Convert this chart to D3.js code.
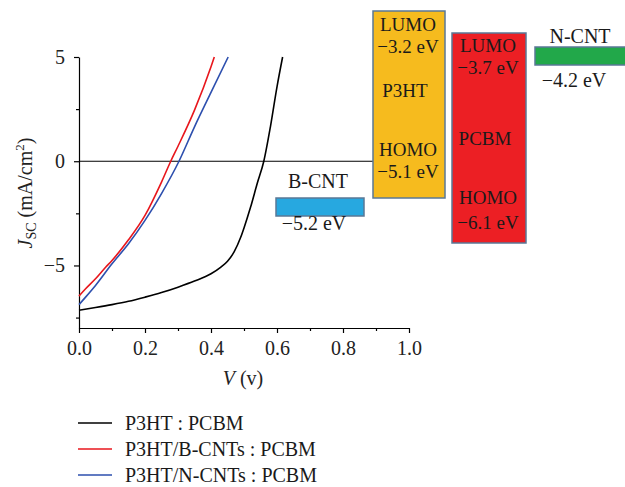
<!DOCTYPE html>
<html>
<head>
<meta charset="utf-8">
<script src="https://cdn.jsdelivr.net/npm/d3@7"></script>
<style>
  body { margin: 0; background: #fff; }
  svg { display: block; font-family: "Liberation Serif", "DejaVu Serif", serif; }
  .axis path, .axis line { stroke: #000; stroke-width: 1.2; }
  .axis text { font-family: "Liberation Serif", serif; font-size: 20px; fill: #222; }
</style>
</head>
<body>
<div id="chart"></div>
<script>
// J-V curves
let blackV = [0, 0.05, 0.1, 0.15, 0.2, 0.25, 0.3, 0.35, 0.4, 0.43, 0.45, 0.47, 0.49, 0.5, 0.52, 0.54, 0.56, 0.58, 0.6, 0.617];
let blackJ = [-7.15, -7.02, -6.88, -6.72, -6.52, -6.3, -6.04, -5.75, -5.4, -5.08, -4.8, -4.35, -3.65, -3.2, -2.2, -1.07, 0, 1.65, 3.57, 5];

let redV = [0, 0.02, 0.05, 0.08, 0.1, 0.15, 0.2, 0.25, 0.278, 0.3, 0.35, 0.4, 0.41];
let redJ = [-6.47, -6.12, -5.64, -5.1, -4.76, -3.77, -2.6, -1.0, 0, 0.72, 2.45, 4.53, 5];

let blueV = [0, 0.02, 0.05, 0.1, 0.15, 0.2, 0.25, 0.303, 0.35, 0.4, 0.452];
let blueJ = [-6.88, -6.52, -5.96, -4.92, -3.96, -2.84, -1.55, 0, 1.65, 3.3, 5];

let seriesNames = ['P3HT : PCBM', 'P3HT/B-CNTs : PCBM', 'P3HT/N-CNTs : PCBM'];
let seriesColors = ['#000000', '#e8161c', '#2d4fae'];

let xTicks = [0, 0.2, 0.4, 0.6, 0.8, 1.0];
let yTicks = [-5, 0, 5];

// energy levels (eV)
let blendNames = ['P3HT', 'PCBM'];
let lumoLevels = [-3.2, -3.7];
let homoLevels = [-5.1, -6.1];
let cntNames = ['B-CNT', 'N-CNT'];
let cntLevels = [-5.2, -4.2];

let svg = d3.select('#chart').append('svg').attr('width', 625).attr('height', 487);

let x = d3.scaleLinear().domain([0, 1]).range([79, 409]);
let y = d3.scaleLinear().domain([-8, 5]).range([328, 57]);

let eV = v => '\u2212' + Math.abs(v).toFixed(1) + ' eV';

// Оси
svg.append('g').attr('class', 'axis')
    .attr('transform', 'translate(0,328)')
    .call(d3.axisBottom(x).tickValues(d3.range(0.1, 1, 0.2)).tickSize(3).tickFormat(''))
    .select('.domain').remove();
svg.append('g').attr('class', 'axis')
    .attr('transform', 'translate(0,328)')
    .call(d3.axisBottom(x).tickValues(xTicks).tickSize(5).tickSizeOuter(0).tickPadding(8).tickFormat(d3.format('.1f')));

svg.append('g').attr('class', 'axis')
    .attr('transform', 'translate(79,0)')
    .call(d3.axisLeft(y).tickValues([-7.5, -2.5, 2.5]).tickSize(3).tickFormat(''))
    .select('.domain').remove();
svg.append('g').attr('class', 'axis')
    .attr('transform', 'translate(79,0)')
    .call(d3.axisLeft(y).tickValues(yTicks).tickSize(5).tickSizeOuter(0).tickPadding(9).tickFormat(d => d < 0 ? '\u2212' + Math.abs(d) : d));

// Линия нуля
svg.append('line')
    .attr('x1', x(0)).attr('x2', 373)
    .attr('y1', y(0)).attr('y2', y(0))
    .attr('stroke', '#000').attr('stroke-width', 1.2);

// Подписи осей
let xLabel = svg.append('text').attr('x', 243).attr('y', 385).attr('text-anchor', 'middle')
    .style('font-size', '20px').attr('fill', '#222');
xLabel.append('tspan').style('font-style', 'italic').text('V');
xLabel.append('tspan').text(' (v)');

let yLabel = svg.append('text').attr('transform', 'translate(32,193) rotate(-90)')
    .attr('text-anchor', 'middle').style('font-size', '20px').attr('fill', '#222');
yLabel.append('tspan').style('font-style', 'italic').text('J');
yLabel.append('tspan').style('font-size', '14px').attr('dy', 4).text('SC');
yLabel.append('tspan').attr('dy', -4).text(' (mA/cm');
yLabel.append('tspan').style('font-size', '13px').attr('dy', -8).text('2');
yLabel.append('tspan').attr('dy', 8).text(')');

// Кривые
let curves = [
    { v: blackV, j: blackJ },
    { v: redV, j: redJ },
    { v: blueV, j: blueJ }
];
let line = d3.line().x(d => x(d[0])).y(d => y(d[1])).curve(d3.curveMonotoneX);

[0, 2, 1].forEach(i => {
    let pts = curves[i].v.map((v, k) => [v, curves[i].j[k]]);
    svg.append('path')
        .datum(pts)
        .attr('d', line)
        .attr('fill', 'none')
        .attr('stroke', seriesColors[i])
        .attr('stroke-width', 1.6);
});

// Энергетические уровни
let boxStroke = '#5a7896';
let blendBoxes = [
    { x0: 373, x1: 445, y0: 11, y1: 198, fill: '#f6bb1e', cx: 408, rows: [31, 53, 97, 156, 178] },
    { x0: 452, x1: 526, y0: 33, y1: 243, fill: '#ec1f24', cx: 488, rows: [52, 74, 145, 204, 229] }
];
blendBoxes.forEach((b, i) => {
    svg.append('rect')
        .attr('x', b.x0).attr('y', b.y0)
        .attr('width', b.x1 - b.x0).attr('height', b.y1 - b.y0)
        .attr('fill', b.fill).attr('stroke', boxStroke).attr('stroke-width', 1.5);
    let texts = ['LUMO', eV(lumoLevels[i]), blendNames[i], 'HOMO', eV(homoLevels[i])];
    texts.forEach((t, k) => {
        svg.append('text')
            .attr('x', b.cx - (k === 2 ? 3 : 0)).attr('y', b.rows[k])
            .attr('text-anchor', 'middle')
            .style('font-size', '19px').attr('fill', '#1a1a1a')
            .text(t);
    });
});

let cntBoxes = [
    { x0: 276, x1: 364, y0: 198, y1: 216, fill: '#27a8e0', nameX: 318, nameY: 188, valX: 314, valY: 230 },
    { x0: 535, x1: 626, y0: 47, y1: 65, fill: '#22a84a', nameX: 580, nameY: 43, valX: 574, valY: 87 }
];
cntBoxes.forEach((b, i) => {
    svg.append('rect')
        .attr('x', b.x0).attr('y', b.y0)
        .attr('width', b.x1 - b.x0).attr('height', b.y1 - b.y0)
        .attr('fill', b.fill).attr('stroke', boxStroke).attr('stroke-width', 1.5);
    svg.append('text').attr('x', b.nameX).attr('y', b.nameY).attr('text-anchor', 'middle')
        .style('font-size', '20px').attr('fill', '#1a1a1a').text(cntNames[i]);
    svg.append('text').attr('x', b.valX).attr('y', b.valY).attr('text-anchor', 'middle')
        .style('font-size', '20px').attr('fill', '#1a1a1a')
        .text(eV(cntLevels[i]));
});

// Легенда
let legendY = [423, 449, 475];
seriesNames.forEach((name, i) => {
    svg.append('line')
        .attr('x1', 78).attr('x2', 112)
        .attr('y1', legendY[i]).attr('y2', legendY[i])
        .attr('stroke', seriesColors[i]).attr('stroke-width', 1.6);
    svg.append('text')
        .attr('x', 125).attr('y', legendY[i] + 7)
        .style('font-size', '20px').attr('fill', '#1a1a1a')
        .text(name);
});
</script>
</body>
</html>
